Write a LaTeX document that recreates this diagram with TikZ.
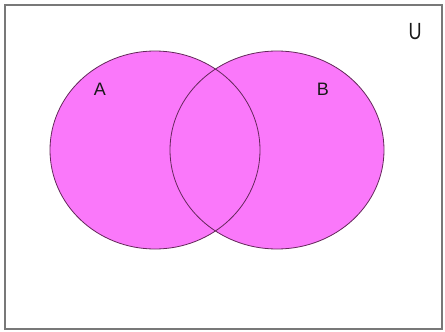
\documentclass[tikz,border=0pt]{standalone}
\usepackage{fontspec}
\setmainfont{Liberation Sans}
\definecolor{vpink}{RGB}{250,120,250}
\definecolor{vline}{RGB}{100,40,90}
\definecolor{frame}{RGB}{120,120,120}
\begin{document}
\begin{tikzpicture}[x=1pt,y=-1pt,
  setfill/.style={fill=vpink},
  setline/.style={draw=vline,line width=0.8pt},
  lab/.style={font=\fontsize{18}{18}\selectfont,text=black!90,inner sep=0pt}]
\useasboundingbox (0,0) rectangle (445,332);
\fill[white] (0,0) rectangle (445,332);
\draw[frame,line width=2pt] (5,5) rectangle (442,329);
\path[setfill] (155,150) ellipse [x radius=105, y radius=99];
\path[setfill] (277,150) ellipse [x radius=107, y radius=99];
\path[setline] (155,150) ellipse [x radius=105, y radius=99];
\path[setline] (277,150) ellipse [x radius=107, y radius=99];
\node[lab] (a) at (100,89) {A};
\node[lab] (b) at (323,89) {B};
\node[lab,yscale=1.3,transform shape] (u) at (415,32) {U};
\end{tikzpicture}
\end{document}
